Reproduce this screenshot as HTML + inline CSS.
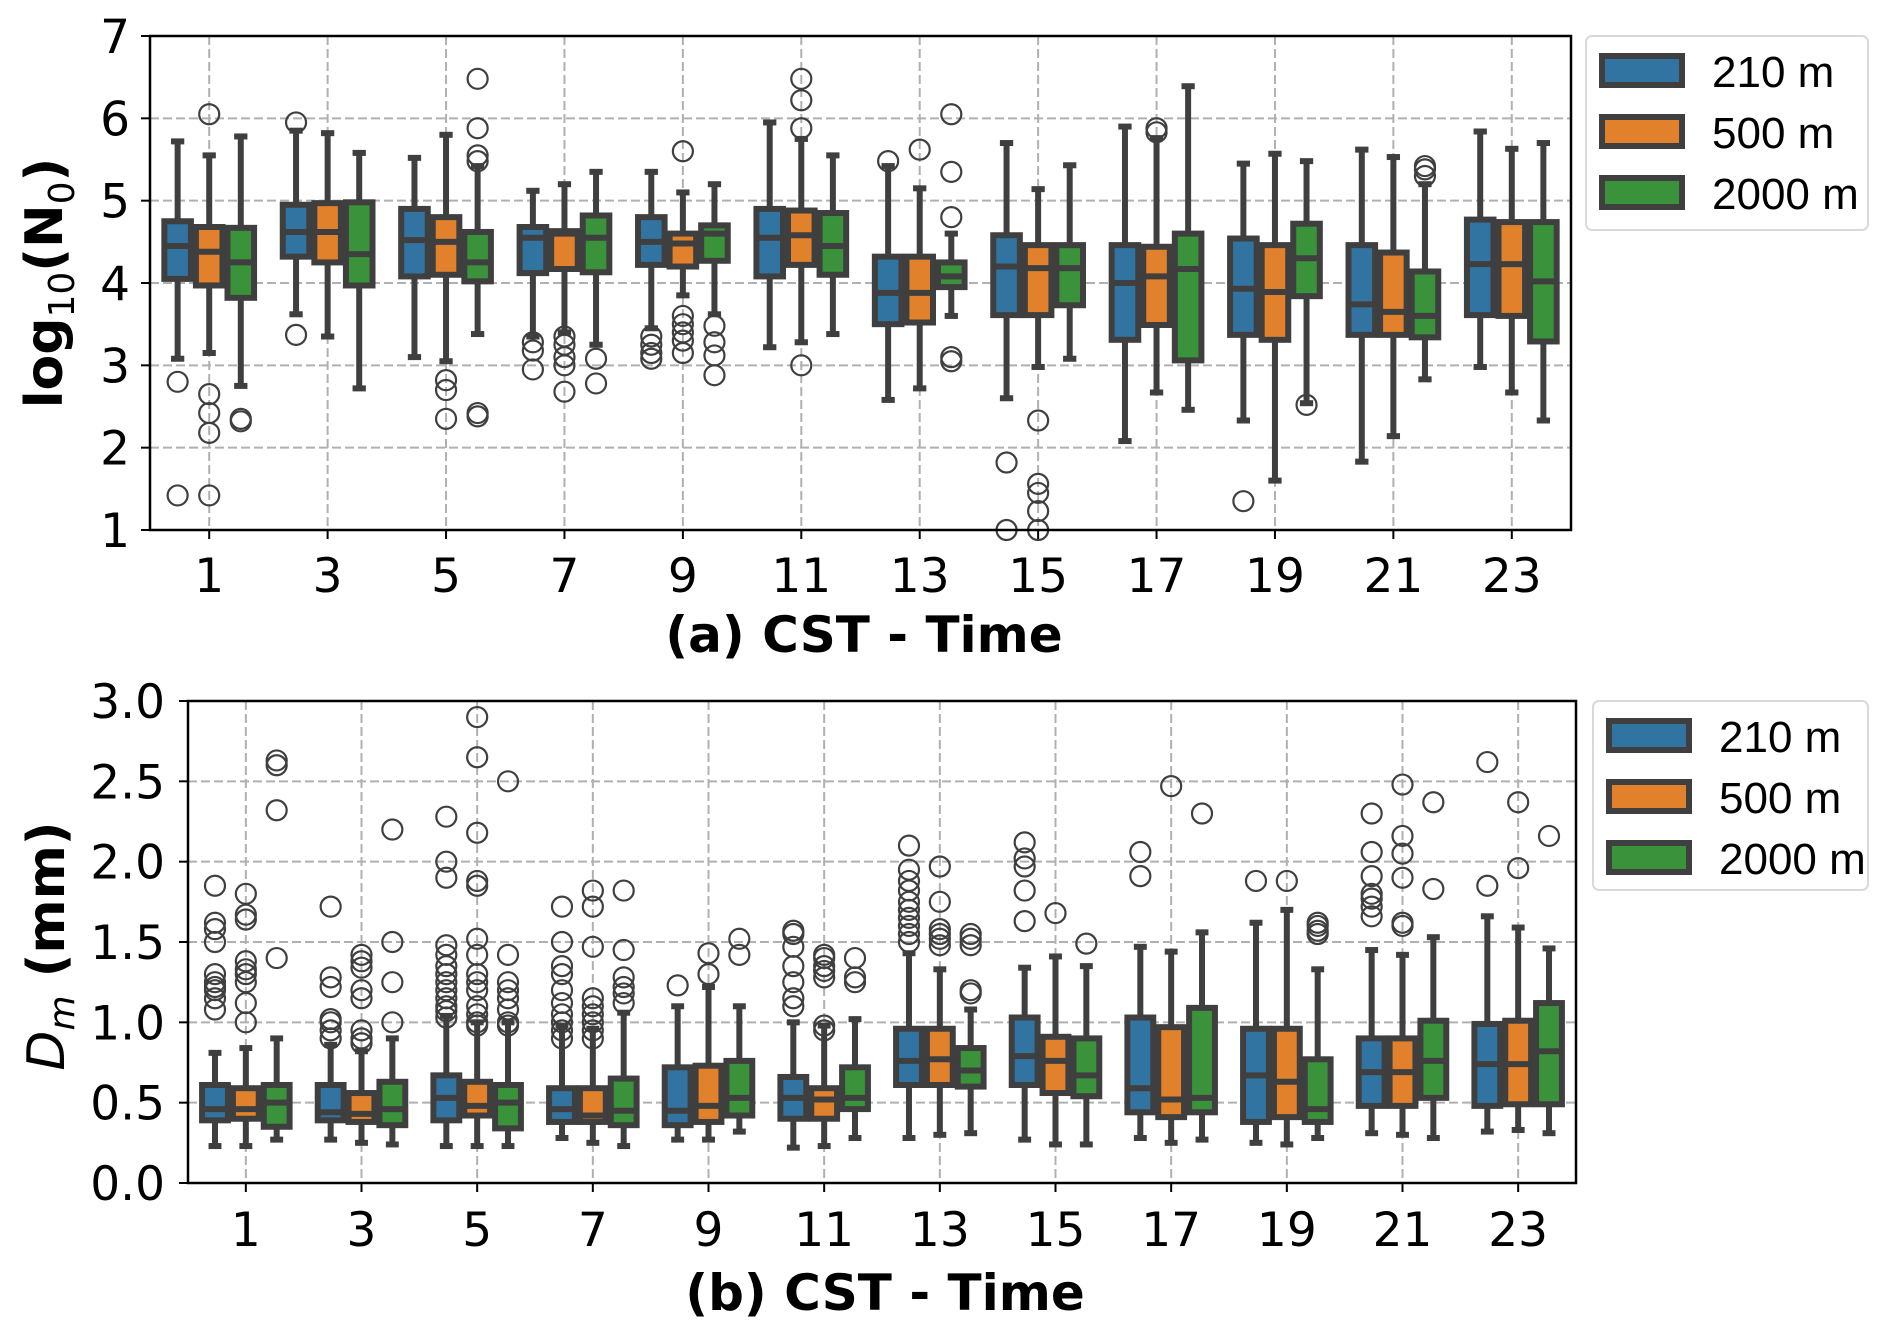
<!DOCTYPE html>
<html><head><meta charset="utf-8">
<style>
html,body{margin:0;padding:0;background:#fff;}
svg{display:block;font-family:"Liberation Sans","DejaVu Sans",sans-serif;}
</style></head>
<body>
<svg id="fig" width="1892" height="1330" viewBox="0 0 1892 1330" xmlns="http://www.w3.org/2000/svg"></svg>
<script>
// ---------- shared ----------
const hours = ["1","3","5","7","9","11","13","15","17","19","21","23"];
const seriesNames = ["210 m","500 m","2000 m"];
const seriesColors = ["#3274a1","#e1812c","#3a923a"];

// ---------- panel (a): log10(N0) : [lowWhisker, q1, median, q3, highWhisker] per hour ----------
const n0_210 = [[3.08,4.05,4.45,4.75,5.72],[3.62,4.32,4.62,4.95,5.85],[3.10,4.08,4.52,4.90,5.52],[3.35,4.12,4.55,4.68,5.12],[3.45,4.22,4.50,4.80,5.35],[3.22,4.08,4.55,4.90,5.95],[2.58,3.50,3.88,4.32,5.42],[2.60,3.61,4.20,4.58,5.70],[2.08,3.31,4.00,4.46,5.90],[2.33,3.37,3.93,4.54,5.45],[1.83,3.37,3.74,4.46,5.62],[2.98,3.61,4.23,4.77,5.84]];
const n0_500 = [[3.15,3.97,4.38,4.68,5.55],[3.35,4.25,4.62,4.97,5.82],[3.05,4.10,4.50,4.80,5.80],[3.40,4.17,4.60,4.63,5.20],[3.85,4.20,4.48,4.60,5.10],[3.28,4.22,4.58,4.88,5.75],[2.72,3.52,3.88,4.32,5.15],[2.98,3.61,4.18,4.46,5.14],[2.67,3.49,4.08,4.44,5.76],[1.60,3.31,3.89,4.46,5.57],[2.14,3.37,3.65,4.37,5.53],[2.67,3.60,4.23,4.74,5.63]];
const n0_2000 = [[2.75,3.82,4.25,4.67,5.78],[2.72,3.97,4.35,4.98,5.58],[3.38,4.02,4.25,4.62,5.42],[3.25,4.13,4.55,4.82,5.35],[3.62,4.27,4.60,4.70,5.20],[3.38,4.10,4.45,4.85,5.55],[3.60,3.95,4.08,4.25,4.60],[3.08,3.73,4.18,4.46,5.43],[2.46,3.06,4.17,4.60,6.39],[2.54,3.84,4.30,4.72,5.48],[2.83,3.34,3.60,4.14,5.20],[2.33,3.29,4.02,4.74,5.70]];
const n0_out_210 = [[2.8,1.42],[5.95,3.37],[],[3.28,3.18,2.95],[3.35,3.25,3.15,3.08],[],[5.48],[1.82,1.0],[],[1.35],[],[]];
const n0_out_500 = [[6.05,2.65,2.42,2.18,1.42],[],[2.82,2.7,2.35],[3.35,3.25,3.1,3.0,2.68],[5.6,3.6,3.5,3.4,3.3,3.15],[6.48,6.22,5.88,3.0],[5.62],[2.33,1.56,1.45,1.23,1.0],[5.88,5.83],[],[],[]];
const n0_out_2000 = [[2.35,2.32],[],[6.48,5.88,5.55,5.48,2.42,2.38],[3.08,2.78],[3.48,3.28,3.12,2.88],[],[6.05,5.35,4.8,3.1,3.05],[],[],[2.52],[5.42,5.38,5.3],[]];
const n0Ticks = [1,2,3,4,5,6,7];

// ---------- panel (b): Dm (mm) ----------
const dm_210 = [[0.23,0.39,0.46,0.61,0.81],[0.27,0.39,0.44,0.61,0.86],[0.23,0.39,0.53,0.67,1.04],[0.28,0.38,0.46,0.59,0.98],[0.27,0.36,0.45,0.72,1.10],[0.22,0.40,0.53,0.66,1.00],[0.28,0.61,0.76,0.96,1.43],[0.27,0.61,0.79,1.03,1.34],[0.28,0.44,0.59,1.03,1.47],[0.25,0.38,0.67,0.96,1.62],[0.31,0.48,0.69,0.90,1.45],[0.32,0.48,0.74,0.99,1.66]];
const dm_500 = [[0.23,0.40,0.46,0.59,0.84],[0.25,0.38,0.43,0.56,0.82],[0.23,0.42,0.48,0.63,1.00],[0.25,0.38,0.42,0.59,0.96],[0.27,0.38,0.48,0.73,1.22],[0.23,0.40,0.52,0.59,0.98],[0.30,0.61,0.77,0.96,1.33],[0.24,0.56,0.76,0.91,1.41],[0.25,0.41,0.52,0.97,1.44],[0.24,0.41,0.63,0.96,1.70],[0.30,0.48,0.69,0.90,1.42],[0.33,0.49,0.74,1.01,1.59]];
const dm_2000 = [[0.27,0.35,0.50,0.61,0.90],[0.24,0.36,0.46,0.63,0.90],[0.23,0.34,0.50,0.61,1.00],[0.23,0.36,0.45,0.65,1.06],[0.32,0.42,0.53,0.76,1.10],[0.28,0.46,0.53,0.72,1.02],[0.31,0.60,0.70,0.84,1.08],[0.24,0.54,0.67,0.90,1.35],[0.27,0.44,0.53,1.09,1.56],[0.28,0.38,0.46,0.77,1.33],[0.28,0.53,0.76,1.01,1.53],[0.31,0.49,0.82,1.12,1.46]];
const dm_out_210 = [[1.85,1.62,1.58,1.5,1.3,1.25,1.22,1.2,1.15,1.08],[1.72,1.28,1.22,1.02,1.0,0.95,0.9],[2.28,2.0,1.9,1.48,1.42,1.35,1.3,1.25,1.2,1.15,1.1,1.07,1.03],[1.72,1.5,1.35,1.3,1.2,1.12,1.05,1.0,0.95,0.9],[1.23],[1.57,1.55,1.47,1.35,1.25,1.15,1.1],[2.1,1.95,1.88,1.82,1.75,1.7,1.65,1.6,1.55,1.5],[2.12,2.02,1.97,1.82,1.63],[2.06,1.91],[1.88],[2.3,2.06,1.91,1.8,1.77,1.72,1.66],[2.62,1.85]];
const dm_out_500 = [[1.8,1.67,1.64,1.38,1.33,1.3,1.25,1.12,1.0],[1.42,1.38,1.34,1.2,1.15,0.95,0.9,0.87],[2.9,2.65,2.18,1.88,1.85,1.52,1.42,1.3,1.25,1.2,1.1,1.05,1.0,0.98],[1.82,1.72,1.47,1.15,1.1,1.05,1.0,0.95,0.9],[1.43,1.3],[1.42,1.4,1.35,1.32,1.28,0.98,0.95],[1.97,1.75,1.58,1.55,1.52,1.48],[1.68],[2.47],[1.88],[2.48,2.16,2.05,1.9,1.62,1.6],[2.37,1.96]];
const dm_out_2000 = [[2.63,2.6,2.32,1.4],[2.2,1.5,1.25,1.0],[2.5,1.42,1.25,1.2,1.15,1.08,1.0,0.98],[1.82,1.45,1.28,1.22,1.18,1.12],[1.52,1.42],[1.4,1.28,1.25],[1.55,1.52,1.48,1.2,1.18],[1.49],[2.3],[1.62,1.6,1.57,1.55],[2.37,1.83],[2.16]];
const dmTicks = ["0.0","0.5","1.0","1.5","2.0","2.5","3.0"];

const NS = "http://www.w3.org/2000/svg";
const svg = document.getElementById('fig');
function mk(tag, attrs, parent){
  const e = document.createElementNS(NS, tag);
  for (const k in attrs) e.setAttribute(k, attrs[k]);
  (parent||svg).appendChild(e);
  return e;
}
const EDGE = "#3f3f3f";
const TF = '"DejaVu Sans", sans-serif';

function panel(cfg){
  const g = mk('g', {});
  
  
  const {L,R,T,B,ymin,ymax} = cfg;
  const n = hours.length;
  const step = (R-L)/n;
  const xs = i => L + step*(i+0.5);
  const ys = v => B - (v-ymin)/(ymax-ymin)*(B-T);
  const grid = mk('g', {}, g);
  
  
  cfg.ticks.forEach(t => {
    const y = ys(parseFloat(t));
    if (y > T+1 && y < B-1) mk('line', {x1:L,x2:R,y1:y,y2:y,stroke:'#b0b0b0','stroke-width':2,'stroke-dasharray':'9,4'}, grid);
  });
  hours.forEach((h,i) => {
    mk('line', {x1:xs(i),x2:xs(i),y1:T,y2:B,stroke:'#b0b0b0','stroke-width':2,'stroke-dasharray':'9,4'}, grid);
  });
  const bw = step*0.8/3;
  const sets = [cfg.s0, cfg.s1, cfg.s2];
  const outs = [cfg.o0, cfg.o1, cfg.o2];
  sets.forEach((set, s) => {
    const sg = mk('g', {}, g);
    
    
    set.forEach((st, i) => {
      const cx = xs(i) + (s-1)*bw;
      const w = bw - 5;
      const [wl,q1,md,q3,wh] = st;
      const bx = mk('g', {}, sg);
      
      
      mk('line', {x1:cx,x2:cx,y1:ys(wh),y2:ys(q3),stroke:EDGE,'stroke-width':6}, bx);
      mk('line', {x1:cx,x2:cx,y1:ys(q1),y2:ys(wl),stroke:EDGE,'stroke-width':6}, bx);
      mk('line', {x1:cx-w/4,x2:cx+w/4,y1:ys(wh),y2:ys(wh),stroke:EDGE,'stroke-width':6}, bx);
      mk('line', {x1:cx-w/4,x2:cx+w/4,y1:ys(wl),y2:ys(wl),stroke:EDGE,'stroke-width':6}, bx);
      mk('rect', {x:cx-w/2,y:ys(q3),width:w,height:Math.max(ys(q1)-ys(q3),1),fill:seriesColors[s],stroke:EDGE,'stroke-width':6}, bx);
      mk('line', {x1:cx-w/2,x2:cx+w/2,y1:ys(md),y2:ys(md),stroke:EDGE,'stroke-width':6}, bx);
      outs[s][i].forEach(v => {
        if (v < ymin - 0.01) return;
        const c = mk('circle', {cx:cx,cy:ys(v),r:10,fill:'none',stroke:EDGE,'stroke-width':2.2}, bx);
        
        
      });
    });
  });
  const fr = mk('rect', {x:L,y:T,width:R-L,height:B-T,fill:'none',stroke:'#000','stroke-width':2.5}, g);
  
  
  const yax = mk('g', {}, g);
  
  
  cfg.ticks.forEach(t => {
    const y = ys(parseFloat(t));
    mk('line', {x1:L-9,x2:L,y1:y,y2:y,stroke:'#000','stroke-width':2}, yax);
    const tx = mk('text', {x:cfg.ylx,y:y+17,'text-anchor':'end','font-size':47,'font-family':TF,fill:'#000'}, yax);
    tx.textContent = t;
    
    
  });
  const xax = mk('g', {}, g);
  
  
  hours.forEach((h,i) => {
    mk('line', {x1:xs(i),x2:xs(i),y1:B,y2:B+9,stroke:'#000','stroke-width':2}, xax);
    const tx = mk('text', {x:xs(i),y:cfg.xly,'text-anchor':'middle','font-size':47,'font-family':TF,fill:'#000'}, xax);
    tx.textContent = h;
    
    
  });
  const xt = mk('text', {x:cfg.xtx,y:cfg.xty,'text-anchor':'middle','font-size':50,'font-weight':'bold','font-family':TF,fill:'#000'}, g);
  xt.textContent = cfg.xtitle;
  
  
  const lg = mk('g', {}, g);
  
  
  mk('rect', {x:cfg.lgx,y:cfg.lgy,width:cfg.lgw,height:cfg.lgh,rx:6,fill:'#fff',stroke:'#d9d9d9','stroke-width':2}, lg);
  seriesNames.forEach((nm, s) => {
    const e = mk('g', {}, lg);
    
    
    const py = cfg.lgy + 20 + s*61;
    mk('rect', {x:cfg.lgx+16,y:py,width:80,height:29,fill:seriesColors[s],stroke:EDGE,'stroke-width':6}, e);
    const t = mk('text', {x:cfg.lgx+126,y:py+31,'font-size':44,fill:'#000'}, e);
    t.textContent = nm;
  });
  return g;
}

panel({name:'panel-a-n0', L:150,R:1571,T:36,B:530,ymin:1,ymax:7,
  ticks:n0Ticks.map(String), s0:n0_210,s1:n0_500,s2:n0_2000,o0:n0_out_210,o1:n0_out_500,o2:n0_out_2000,
  ylx:130, xly:592, xtx:864, xty:652, xtitle:'(a) CST - Time',
  lgx:1586,lgy:36,lgw:282,lgh:194});
panel({name:'panel-b-dm', L:188,R:1576,T:701,B:1183,ymin:0,ymax:3,
  ticks:dmTicks, s0:dm_210,s1:dm_500,s2:dm_2000,o0:dm_out_210,o1:dm_out_500,o2:dm_out_2000,
  ylx:165, xly:1246, xtx:885, xty:1310, xtitle:'(b) CST - Time',
  lgx:1593,lgy:701,lgw:275,lgh:189});

const yt1 = mk('text', {x:0,y:0,'text-anchor':'middle','font-size':52,'font-weight':'bold','font-family':TF,fill:'#000',transform:'translate(62,283) rotate(-90)'});


yt1.innerHTML = 'log<tspan font-size="36" font-weight="normal" dy="12">10</tspan><tspan dy="-12">(N</tspan><tspan font-size="36" font-weight="normal" dy="12">0</tspan><tspan dy="-12">)</tspan>';
const yt2 = mk('text', {x:0,y:0,'text-anchor':'middle','font-size':52,'font-family':TF,fill:'#000',transform:'translate(64,946) rotate(-90)'});


yt2.innerHTML = '<tspan font-style="italic">D</tspan><tspan font-style="italic" font-size="36" dy="10">m</tspan><tspan font-weight="bold" dy="-10"> (mm)</tspan>';
</script>
</body></html>
